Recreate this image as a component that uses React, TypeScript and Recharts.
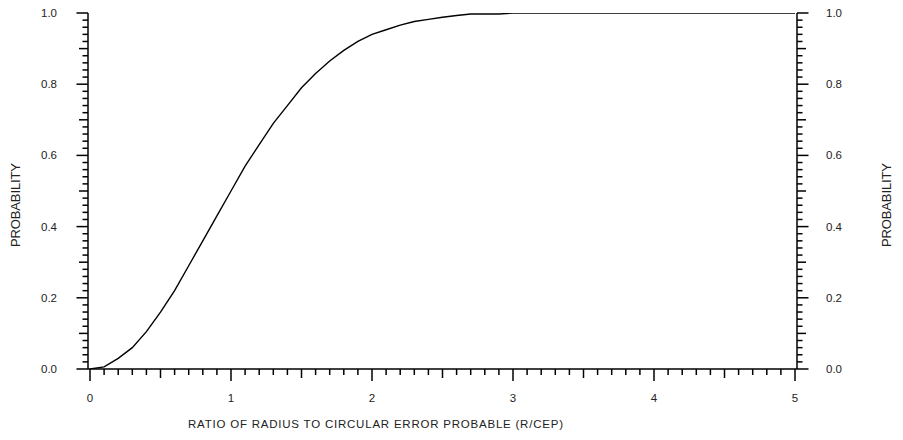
import { LineChart, Line, XAxis, YAxis } from "recharts";

// ratio R/CEP and cumulative hit probability
const RATIO = [
  0, 0.1, 0.2, 0.3, 0.4, 0.5, 0.6, 0.7, 0.8, 0.9, 1.0, 1.1, 1.2, 1.3, 1.4, 1.5,
  1.6, 1.7, 1.8, 1.9, 2.0, 2.1, 2.2, 2.3, 2.4, 2.5, 2.6, 2.7, 2.8, 2.9, 3.0,
  3.5, 4.0, 4.5, 5.0,
];
const PROBABILITY = [
  0, 0.006, 0.03, 0.06, 0.105, 0.16, 0.22, 0.29, 0.36, 0.43, 0.5, 0.57, 0.63,
  0.69, 0.74, 0.79, 0.83, 0.865, 0.895, 0.92, 0.94, 0.953, 0.966, 0.976, 0.982,
  0.988, 0.993, 0.997, 0.997, 0.997, 1.0, 1.0, 1.0, 1.0, 1.0,
];

const X_LABELS = [0, 1, 2, 3, 4, 5];
const Y_LABELS = [0, 0.2, 0.4, 0.6, 0.8, 1.0];
const X_TITLE = "RATIO OF RADIUS TO CIRCULAR ERROR PROBABLE  (R/CEP)";
const Y_TITLE = "PROBABILITY";

// minor tick positions (every 0.1 on x, every 0.02 on y)
const X_TICKS = Array.from({ length: 51 }, (_, i) => i / 10);
const Y_TICKS = Array.from({ length: 51 }, (_, i) => i / 50);

const data = RATIO.map((r, i) => ({ r, p: PROBABILITY[i] }));

const FONT = "'Liberation Sans', Arial, sans-serif";
const INK = "#000";

const XTick = (props: any) => {
  const { x, y, payload } = props;
  const k = Math.round(payload.value * 10);
  const len = k % 10 === 0 ? 12 : k % 5 === 0 ? 9 : 6;
  const isLabel = X_LABELS.includes(k / 10);
  return (
    <g>
      <line x1={x} x2={x} y1={y} y2={y + len} stroke={INK} strokeWidth={1.5} />
      {isLabel && (
        <text x={x} y={y + 33} textAnchor="middle" fontSize={11.5} fontFamily={FONT} fill="#222">
          {k / 10}
        </text>
      )}
    </g>
  );
};

const makeYTick = (side: "left" | "right") => (props: any) => {
  const { x, y, payload } = props;
  const k = Math.round(payload.value * 50);
  const len = k % 10 === 0 ? 11.5 : k % 5 === 0 ? 9 : 5.5;
  const dir = side === "left" ? -1 : 1;
  const v = k / 50;
  const isLabel = Y_LABELS.some((l) => Math.abs(l - v) < 1e-9);
  return (
    <g>
      <line x1={x} x2={x + dir * len} y1={y} y2={y} stroke={INK} strokeWidth={1.5} />
      {isLabel && (
        <text
          x={side === "left" ? x - 31 : x + 29}
          y={y + 4}
          textAnchor={side === "left" ? "end" : "start"}
          fontSize={11.5}
          fontFamily={FONT}
          fill="#222"
        >
          {v.toFixed(1)}
        </text>
      )}
    </g>
  );
};

const yTitle = (dx: number) => (props: any) => {
  const { viewBox } = props;
  const cx = viewBox.x + dx;
  const cy = viewBox.y + viewBox.height / 2 + 14;
  return (
    <text
      x={cx}
      y={cy}
      transform={`rotate(-90, ${cx}, ${cy})`}
      textAnchor="middle"
      dominantBaseline="central"
      fontSize={13}
      fontFamily={FONT}
      textLength={84}
      lengthAdjust="spacing"
      fill="#222"
    >
      {Y_TITLE}
    </text>
  );
};

const xTitle = (props: any) => {
  const { viewBox } = props;
  return (
    <text
      x={viewBox.x + 100}
      y={viewBox.y + 59}
      fontSize={11.5}
      fontFamily={FONT}
      textLength={375}
      lengthAdjust="spacing"
      fill="#222"
    >
      {X_TITLE}
    </text>
  );
};

const App = () => {
  return (
    <div style={{ position: "absolute", left: 0, top: 0, width: 903, height: 440, background: "#fff" }}>
      <LineChart width={903} height={440} data={data} margin={{ top: 13, right: 46, bottom: 41, left: 28 }}>
        <XAxis
          dataKey="r"
          type="number"
          domain={[0, 5]}
          allowDataOverflow
          ticks={X_TICKS}
          interval={0}
          padding={{ left: 2, right: 2 }}
          height={30}
          tickSize={0}
          tickMargin={0}
          tickLine={false}
          tick={XTick}
          axisLine={{ stroke: INK, strokeWidth: 1.5 }}
          label={{ content: xTitle }}
        />
        <YAxis
          yAxisId="l"
          orientation="left"
          type="number"
          domain={[0, 1]}
          allowDataOverflow
          ticks={Y_TICKS}
          interval={0}
          width={60}
          tickSize={0}
          tickMargin={0}
          tickLine={false}
          tick={makeYTick("left")}
          axisLine={{ stroke: INK, strokeWidth: 1.5 }}
          label={{ content: yTitle(-13) }}
        />
        <YAxis
          yAxisId="r"
          orientation="right"
          type="number"
          domain={[0, 1]}
          allowDataOverflow
          ticks={Y_TICKS}
          interval={0}
          width={60}
          tickSize={0}
          tickMargin={0}
          tickLine={false}
          tick={makeYTick("right")}
          axisLine={{ stroke: INK, strokeWidth: 1.5 }}
          label={{ content: yTitle(89) }}
        />
        <Line
          yAxisId="l"
          type="linear"
          dataKey="p"
          stroke={INK}
          strokeWidth={1.4}
          dot={false}
          isAnimationActive={false}
        />
      </LineChart>
    </div>
  );
};

export default App;
